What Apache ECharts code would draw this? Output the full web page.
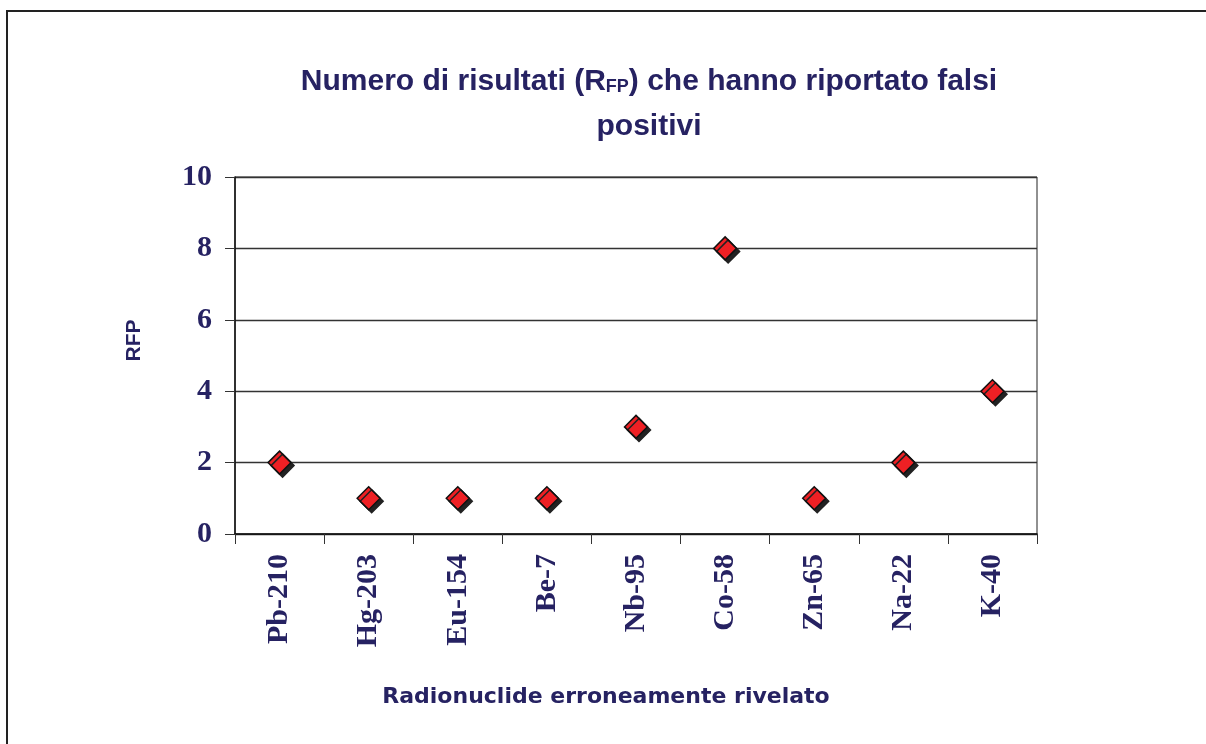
<!DOCTYPE html>
<html>
<head>
<meta charset="utf-8">
<title>RFP falsi positivi</title>
<script src="https://cdn.jsdelivr.net/npm/echarts@6/dist/echarts.min.js"></script>
<style>
  html, body { margin: 0; padding: 0; background: #fff; }
  #main { width: 1206px; height: 744px; }
</style>
</head>
<body>
<div id="main"></div>
<script>
// dati
var radionuclidi = ['Pb-210', 'Hg-203', 'Eu-154', 'Be-7', 'Nb-95', 'Co-58', 'Zn-65', 'Na-22', 'K-40'];
var rfp = [2, 1, 1, 1, 3, 8, 1, 2, 4];
var yTicks = [0, 2, 4, 6, 8, 10];

var navy = '#262262';
var chart = echarts.init(document.getElementById('main'));

chart.setOption({
    backgroundColor: '#fff',
    animation: false,
    title: {
        left: 644,
        top: 54,
        textAlign: 'center',
        text: '{a|Numero di risultati (R}{s|FP}{a|) che hanno riportato falsi}\n{a|positivi}',
        textStyle: {
            rich: {
                a: { fontFamily: 'Liberation Sans', fontWeight: 'bold', fontSize: 30, color: navy, lineHeight: 45 },
                s: { fontFamily: 'Liberation Sans', fontWeight: 'bold', fontSize: 18, color: navy, verticalAlign: 'middle', lineHeight: 18, padding: [12, 0, 0, 0] }
            }
        }
    },
    // cornice esterna
    graphic: [{
        type: 'rect',
        z: -1,
        shape: { x: 7, y: 11, width: 1300, height: 800 },
        style: { fill: 'none', stroke: '#222', lineWidth: 2 }
    }],
    grid: {
        left: 235,
        right: 169,
        top: 177,
        bottom: 210,
        show: true,
        borderColor: '#222',
        borderWidth: 1
    },
    xAxis: {
        type: 'category',
        data: radionuclidi,
        boundaryGap: true,
        name: 'Radionuclide erroneamente rivelato',
        nameLocation: 'middle',
        nameGap: 152,
        nameTextStyle: { fontFamily: 'DejaVu Sans', fontWeight: 'bold', fontSize: 22, color: navy, padding: [0, 60, 0, 0] },
        axisLine: { lineStyle: { color: '#111', width: 1.5 } },
        axisTick: { show: true, length: 10, lineStyle: { color: '#333' } },
        axisLabel: {
            rotate: 90,
            margin: 20,
            fontFamily: 'Liberation Serif',
            fontWeight: 'bold',
            fontSize: 30,
            color: navy
        }
    },
    yAxis: {
        type: 'value',
        min: 0,
        max: 10,
        interval: 2,
        name: 'RFP',
        nameLocation: 'middle',
        nameGap: 90,
        nameTextStyle: { fontFamily: 'Liberation Sans', fontWeight: 'bold', fontSize: 21, color: navy, padding: [0, 0, 0, 30] },
        axisLine: { show: true, lineStyle: { color: '#111', width: 1.5 } },
        axisTick: { show: true, length: 10, lineStyle: { color: '#333' } },
        splitLine: { show: true, lineStyle: { color: '#333', width: 1.3 } },
        axisLabel: {
            margin: 23,
            fontFamily: 'Liberation Serif',
            fontWeight: 'bold',
            fontSize: 30,
            color: navy,
            formatter: function (v) { return yTicks.indexOf(v) >= 0 ? String(v) : ''; }
        }
    },
    series: [{
        type: 'scatter',
        data: rfp,
        symbol: 'diamond',
        symbolSize: [23, 23],
        itemStyle: {
            color: '#ee2024',
            borderColor: '#111',
            borderWidth: 1.5,
            shadowColor: '#222',
            shadowBlur: 0,
            shadowOffsetX: 3,
            shadowOffsetY: 3,
            opacity: 1
        }
    }]
});
</script>
</body>
</html>
